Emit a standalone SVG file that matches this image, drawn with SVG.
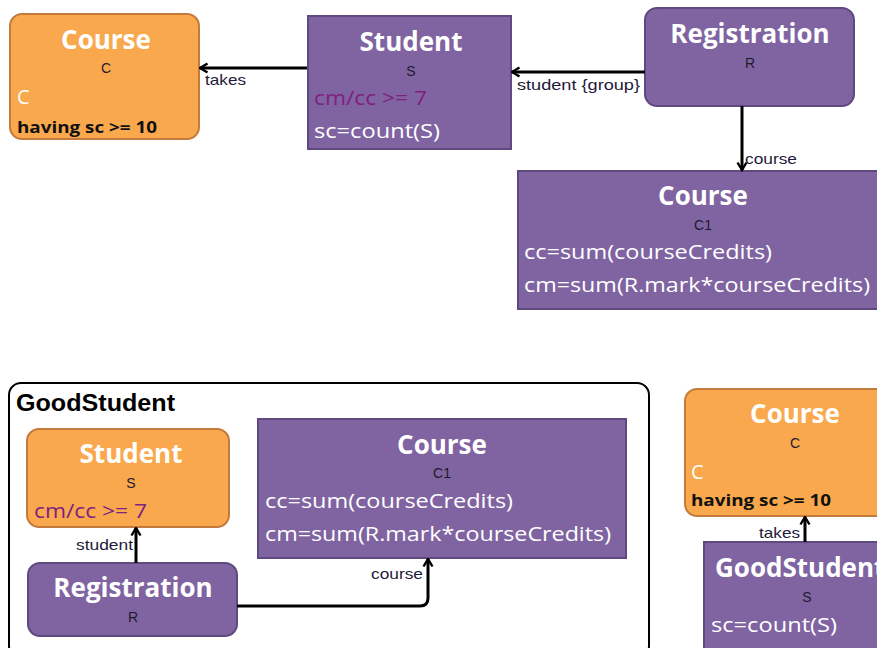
<svg xmlns="http://www.w3.org/2000/svg" width="877" height="648" viewBox="0 0 877 648">
<defs>
<marker id="arr" viewBox="0 0 12 12" refX="10.5" refY="6" markerWidth="12" markerHeight="12" markerUnits="userSpaceOnUse" orient="auto">
<path d="M3,1.5 L10.5,6 L3,10.5" fill="none" stroke="#000" stroke-width="2.4"/>
</marker>
<style>
.pur{fill:#8064A2;stroke:#5E4A7F;stroke-width:2}
.ora{fill:#F9A84D;stroke:#C47A3A;stroke-width:2}
.title{font-family:"Open Sans",sans-serif;font-weight:bold;font-size:26px;fill:#fff;text-anchor:middle}
.var{font-family:"Liberation Sans",Arial,sans-serif;font-size:14px;fill:#1e1a2e;text-anchor:middle}
.attr{font-family:"Open Sans",sans-serif;font-size:20px;fill:#fff}
.cond{font-family:"Open Sans",sans-serif;font-size:20px;fill:#7F1F80}
.hav{font-family:"Open Sans",sans-serif;font-weight:bold;font-size:16px;fill:#111}
.lbl{font-family:"Liberation Sans",Arial,sans-serif;font-size:15px;fill:#1e1a3a}
.conn{fill:none;stroke:#000;stroke-width:3}
</style>
</defs>

<g id="container-goodstudent">
<rect x="9" y="383" width="640" height="275" rx="12" fill="#fff" stroke="#000" stroke-width="2"/>
<text x="16" y="411" font-family="Liberation Sans,Arial,sans-serif" font-weight="bold" font-size="23" fill="#000" textLength="159" lengthAdjust="spacingAndGlyphs">GoodStudent</text>
</g>

<g id="course-c-top">
<rect class="ora" x="10" y="14" width="189" height="125" rx="12"/>
<text class="title" x="106" y="49">Course</text>
<text class="var" x="106" y="73">C</text>
<text class="attr" x="17" y="104">C</text>
<text class="hav" x="17" y="133" textLength="140" lengthAdjust="spacingAndGlyphs">having sc &gt;= 10</text>
</g>

<g id="student-s-top">
<rect class="pur" x="308" y="16" width="203" height="133"/>
<text class="title" x="411" y="51">Student</text>
<text class="var" x="411" y="76">S</text>
<text class="cond" x="314" y="105" textLength="113" lengthAdjust="spacingAndGlyphs">cm/cc &gt;= 7</text>
<text class="attr" x="314" y="138" textLength="126" lengthAdjust="spacingAndGlyphs">sc=count(S)</text>
</g>

<g id="registration-r-top">
<rect class="pur" x="645" y="8" width="209" height="98" rx="12"/>
<text class="title" x="750" y="43">Registration</text>
<text class="var" x="750" y="68">R</text>
</g>

<g id="course-c1-top">
<rect class="pur" x="518" y="171" width="362" height="138"/>
<text class="title" x="703" y="205">Course</text>
<text class="var" x="703" y="230">C1</text>
<text class="attr" x="524" y="259" textLength="248" lengthAdjust="spacingAndGlyphs">cc=sum(courseCredits)</text>
<text class="attr" x="524" y="292" textLength="346" lengthAdjust="spacingAndGlyphs">cm=sum(R.mark*courseCredits)</text>
</g>

<g id="student-s-inner">
<rect class="ora" x="27" y="429" width="202" height="98" rx="12"/>
<text class="title" x="131" y="463">Student</text>
<text class="var" x="131" y="488">S</text>
<text class="cond" x="34" y="518" textLength="113" lengthAdjust="spacingAndGlyphs">cm/cc &gt;= 7</text>
</g>

<g id="registration-r-inner">
<rect class="pur" x="28" y="563" width="209" height="73" rx="12"/>
<text class="title" x="133" y="597">Registration</text>
<text class="var" x="133" y="622">R</text>
</g>

<g id="course-c1-inner">
<rect class="pur" x="258" y="419" width="368" height="139"/>
<text class="title" x="442" y="454">Course</text>
<text class="var" x="442" y="478">C1</text>
<text class="attr" x="265" y="508" textLength="248" lengthAdjust="spacingAndGlyphs">cc=sum(courseCredits)</text>
<text class="attr" x="265" y="541" textLength="346" lengthAdjust="spacingAndGlyphs">cm=sum(R.mark*courseCredits)</text>
</g>

<g id="course-c-right">
<rect class="ora" x="685" y="389" width="205" height="127" rx="12"/>
<text class="title" x="795" y="423">Course</text>
<text class="var" x="795" y="448">C</text>
<text class="attr" x="691" y="479">C</text>
<text class="hav" x="691" y="506" textLength="140" lengthAdjust="spacingAndGlyphs">having sc &gt;= 10</text>
</g>

<g id="goodstudent-s">
<rect class="pur" x="704" y="542" width="190" height="110"/>
<text class="title" x="715" y="577" style="text-anchor:start">GoodStudent</text>
<text class="var" x="807" y="602">S</text>
<text class="attr" x="711" y="632" textLength="126" lengthAdjust="spacingAndGlyphs">sc=count(S)</text>
</g>

<g id="connectors">
<path class="conn" d="M307,68 H200" marker-end="url(#arr)"/>
<text class="lbl" x="205" y="85" textLength="41" lengthAdjust="spacingAndGlyphs">takes</text>
<path class="conn" d="M645,72 H512" marker-end="url(#arr)"/>
<text class="lbl" x="517" y="90" textLength="123" lengthAdjust="spacingAndGlyphs">student  {group}</text>
<path class="conn" d="M742,106 V170" marker-end="url(#arr)"/>
<text class="lbl" x="745" y="164" textLength="52" lengthAdjust="spacingAndGlyphs">course</text>
<path class="conn" d="M136,563 V528" marker-end="url(#arr)"/>
<text class="lbl" x="76" y="550" textLength="57" lengthAdjust="spacingAndGlyphs">student</text>
<path class="conn" d="M237,606 H420 Q428,606 428,598 V559" marker-end="url(#arr)"/>
<text class="lbl" x="371" y="579" textLength="52" lengthAdjust="spacingAndGlyphs">course</text>
<path class="conn" d="M805,542 V517" marker-end="url(#arr)"/>
<text class="lbl" x="759" y="538" textLength="41" lengthAdjust="spacingAndGlyphs">takes</text>
</g>
</svg>
